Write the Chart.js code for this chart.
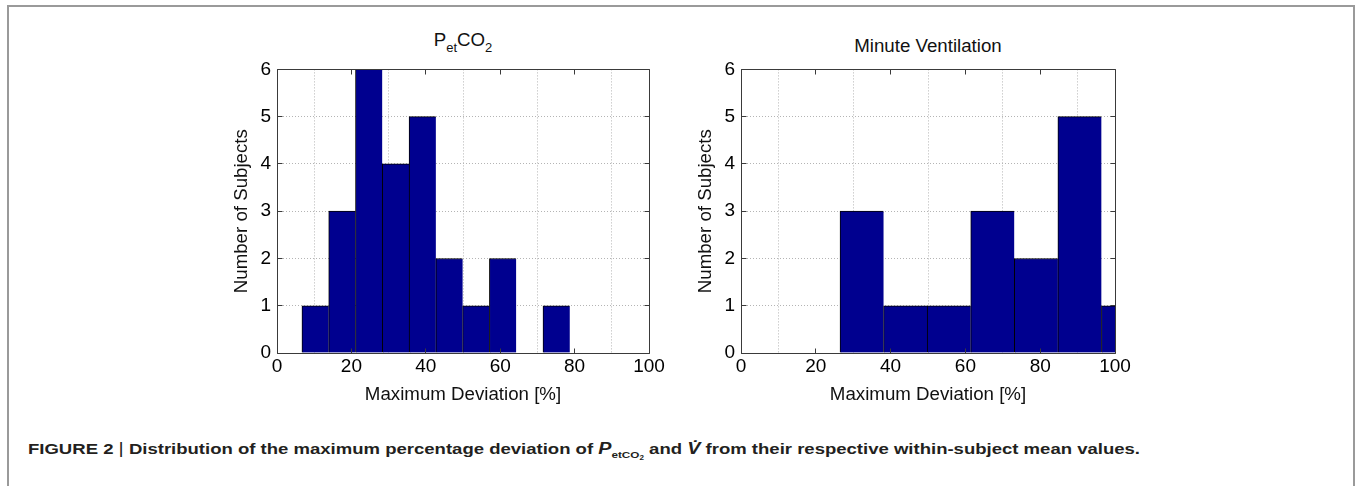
<!DOCTYPE html>
<html>
<head>
<meta charset="utf-8">
<script src="https://cdn.jsdelivr.net/npm/chart.js@4/dist/chart.umd.min.js"></script>
<style>
html,body{margin:0;padding:0;background:#fff;}
body{width:1356px;height:486px;overflow:hidden;position:relative;font-family:"Liberation Sans",Arial,sans-serif;}
#frame{position:absolute;left:7px;top:5px;width:1348px;height:600px;border:2px solid #9a9a9a;border-bottom:none;box-sizing:border-box;}
canvas{position:absolute;}
.ttl{position:absolute;font-size:18.7px;line-height:18.7px;color:#111;white-space:nowrap;transform:translateX(-50%);}
.ttl .sb{font-size:13px;position:relative;top:6px;}
#caption{position:absolute;left:28px;top:440px;font-size:15px;line-height:17px;font-weight:bold;color:#231f20;white-space:nowrap;transform-origin:0 0;}
#caption .vb{font-weight:normal;font-size:16px;}
#caption i{font-size:16px;}
#caption .s1{font-size:9.5px;vertical-align:-4px;font-style:normal;}
#caption .s2{font-size:6.5px;vertical-align:-2px;}
</style>
</head>
<body>
<div id="frame"></div>
<div class="ttl" style="left:463px;top:31px;">P<span class="sb">et</span>CO<span class="sb">2</span></div>
<div class="ttl" style="left:928px;top:37px;">Minute Ventilation</div>
<canvas id="c1" width="449" height="361" style="left:220px;top:52px;"></canvas>
<canvas id="c2" width="451" height="361" style="left:684px;top:52px;"></canvas>
<div id="caption">FIGURE 2 <span class="vb">|</span> Distribution of the maximum percentage deviation of <i>P<span class="s1">etCO<span class="s2">2</span></span></i> and <i>V&#x307;</i> from their respective within-subject mean values.</div>
<script>
// ---- data ----
const petco2BinCenters = [10.3, 17.5, 24.7, 31.9, 39.1, 46.3, 53.5, 60.7, 67.9, 75.1];
const petco2Counts     = [1, 3, 6, 4, 5, 2, 1, 2, 0, 1];
const veBinCenters     = [32.3, 43.95, 55.6, 67.25, 78.9, 90.55, 102.2];
const veCounts         = [3, 1, 1, 3, 2, 5, 1];
const xRange = [0, 100];
const xStep = 20;
const yRange = [0, 6];
const yStep = 1;
const xAxisLabel = 'Maximum Deviation [%]';
const yAxisLabel = 'Number of Subjects';

Chart.defaults.font.family = '"Liberation Sans", Arial, sans-serif';
Chart.defaults.color = '#000';

const al = p => Math.round(p - 0.5) + 0.5;
const boxPlugin = {
  id: 'matlabBox',
  afterDatasetsDraw(chart) {
    const {ctx, chartArea: a, scales: {x, y}} = chart;
    const L = al(a.left), R = al(a.right), T = al(a.top), B = al(a.bottom);
    ctx.save();
    ctx.strokeStyle = '#3a3a3a';
    ctx.lineWidth = 1;
    ctx.beginPath();
    ctx.rect(L, T, R - L, B - T);
    ctx.stroke();
    const tl = 5;
    ctx.beginPath();
    x.ticks.forEach(t => {
      const px = al(x.getPixelForValue(t.value));
      ctx.moveTo(px, B); ctx.lineTo(px, B - tl);
      ctx.moveTo(px, T); ctx.lineTo(px, T + tl);
    });
    y.ticks.forEach(t => {
      const py = al(y.getPixelForValue(t.value));
      ctx.moveTo(L, py); ctx.lineTo(L + tl, py);
      ctx.moveTo(R, py); ctx.lineTo(R - tl, py);
    });
    ctx.stroke();
    ctx.restore();
  }
};

function makeHist(id, centers, counts) {
  return new Chart(document.getElementById(id), {
    type: 'bar',
    data: {
      datasets: [{
        data: centers.map((c, i) => ({x: c, y: counts[i]})),
        backgroundColor: '#00008f',
        borderColor: '#000',
        borderWidth: {top: 1, left: 1, right: 0, bottom: 0},
        borderSkipped: false,
        barPercentage: 1,
        categoryPercentage: 1,
        clip: 0
      }]
    },
    options: {
      responsive: false,
      animation: false,
      devicePixelRatio: 1,
      layout: {padding: {top: 15, right: 20, left: 0, bottom: 0}},
      plugins: {legend: {display: false}, tooltip: {enabled: false}},
      scales: {
        x: {
          type: 'linear', min: xRange[0], max: xRange[1], offset: false,
          ticks: {stepSize: xStep, padding: 2, maxRotation: 0, autoSkip: false, font: {size: 19}, color: '#000'},
          grid: {drawTicks: false, color: '#b4b4b4', lineWidth: 1},
          border: {display: false, dash: [1, 2]},
          title: {display: true, text: xAxisLabel, font: {size: 18.7}, color: '#111', padding: {top: 0, bottom: 7.3}},
          afterFit(s) { s.height = 60; }
        },
        y: {
          min: yRange[0], max: yRange[1],
          ticks: {stepSize: yStep, padding: 6, font: {size: 19}, color: '#000'},
          grid: {drawTicks: false, color: '#b4b4b4', lineWidth: 1},
          border: {display: false, dash: [1, 2]},
          title: {display: true, text: yAxisLabel, font: {size: 18.7}, color: '#111', padding: {top: 10.8, bottom: 0}},
          afterFit(s) { s.width = 57; }
        }
      }
    },
    plugins: [boxPlugin]
  });
}

makeHist('c1', petco2BinCenters, petco2Counts);
makeHist('c2', veBinCenters, veCounts);

// fit caption to the reference width
const cap = document.getElementById('caption');
const w = cap.getBoundingClientRect().width;
cap.style.transform = 'scaleX(' + (1112 / w) + ')';
</script>
</body>
</html>
